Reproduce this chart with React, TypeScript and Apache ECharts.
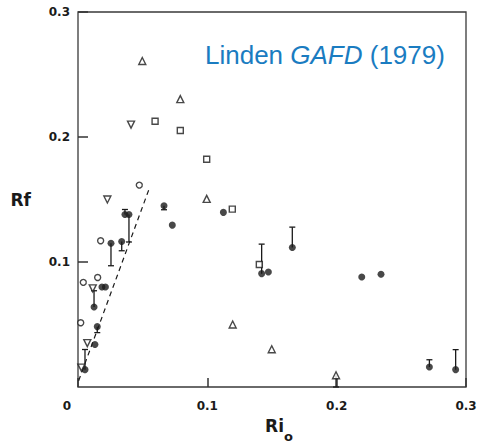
import React, { useEffect, useRef } from "react";
import * as echarts from "echarts";

const xTicks = [0, 0.1, 0.2, 0.3];
const yTicks = [0, 0.1, 0.2, 0.3];

const filledPts: number[][] = [
  [0.0054, 0.0139], [0.0131, 0.034], [0.0124, 0.064], [0.0185, 0.08], [0.0212, 0.08],
  [0.0149, 0.0483], [0.0255, 0.115], [0.0338, 0.1164], [0.0363, 0.138], [0.0394, 0.138],
  [0.0665, 0.145], [0.0729, 0.1295], [0.1124, 0.1397], [0.142, 0.0907], [0.1472, 0.092],
  [0.1657, 0.1116], [0.2194, 0.088], [0.2343, 0.0902], [0.2717, 0.016], [0.292, 0.0139],
];
const openCircles: number[][] = [
  [0.0474, 0.1615], [0.0175, 0.117], [0.0041, 0.0837], [0.0152, 0.0876], [0.0021, 0.0514],
];
const upTriangles: number[][] = [
  [0.0497, 0.2608], [0.0791, 0.2303], [0.0995, 0.1505], [0.1196, 0.05], [0.1498, 0.0302], [0.1995, 0.0094],
];
const downTriangles: number[][] = [
  [0.041, 0.2099], [0.0227, 0.15], [0.0114, 0.0789], [0.0072, 0.0351], [0.0026, 0.0155],
];
const squares: number[][] = [
  [0.0596, 0.2126], [0.0791, 0.2052], [0.0995, 0.1822], [0.1193, 0.1423], [0.1402, 0.098],
];
// [x, from, to]
const errorBars: number[][] = [
  [0.0054, 0.0139, 0.03], [0.0124, 0.064, 0.077], [0.0149, 0.0483, 0.0435],
  [0.0255, 0.115, 0.097], [0.0338, 0.1164, 0.109], [0.0363, 0.138, 0.142],
  [0.0394, 0.138, 0.116], [0.0665, 0.145, 0.1418], [0.142, 0.0907, 0.1143],
  [0.1657, 0.1116, 0.1279], [0.2717, 0.016, 0.0218], [0.292, 0.0139, 0.0299],
  [0.1995, 0.0094, 0.0],
];
const fitLine: number[][] = [[0.0005, 0.005], [0.0551, 0.1588]];

const INK = "#1a1a1a";
const BLUE = "#1a7cc1";

export default function App() {
  const ref = useRef<HTMLDivElement>(null);
  useEffect(() => {
    if (!ref.current) return;
    const chart = echarts.init(ref.current, null, { renderer: "svg" });
    const labelFont = {
      fontFamily: "DejaVu Sans",
      fontWeight: "bold" as const,
      fontSize: 12,
      color: INK,
    };
    const hollow = { color: "#fff", borderColor: INK, borderWidth: 1.4 };
    chart.setOption({
      animation: false,
      backgroundColor: "#fff",
      title: {
        text: "{n|Linden }{i|GAFD}{n| (1979)}",
        left: 200,
        top: 37,
        textStyle: {
          fontWeight: "normal",
          rich: {
            n: { fontFamily: "Liberation Sans", fontWeight: "normal", fontSize: 26, color: BLUE },
            i: { fontFamily: "Liberation Sans", fontWeight: "normal", fontSize: 26, fontStyle: "italic", color: BLUE },
          },
        },
      },
      grid: {
        left: 78, top: 12, right: 14, bottom: 54,
        show: true, borderColor: "#3a3a3a", borderWidth: 1.3,
      },
      xAxis: {
        type: "value",
        min: xTicks[0], max: xTicks[xTicks.length - 1], interval: 0.1,
        splitLine: { show: false },
        axisLine: { show: false },
        axisTick: { show: true, inside: true, length: 9, lineStyle: { color: "#333", width: 1.5 } },
        axisLabel: {
          ...labelFont, margin: 13,
          formatter: (v: number) => (v === 0 ? "{z|0}" : v.toFixed(1)),
          rich: { z: { ...labelFont, padding: [0, 22, 0, 0] } },
        },
        name: "{m|Ri}{s|o}",
        nameLocation: "middle",
        nameGap: 30,
        nameTextStyle: {
          padding: [0, 0, 0, 14],
          rich: {
            m: { fontFamily: "DejaVu Sans", fontWeight: "bold", fontSize: 17, color: INK, lineHeight: 26, verticalAlign: "top" },
            s: { fontFamily: "DejaVu Sans", fontWeight: "bold", fontSize: 13, color: INK, lineHeight: 26, verticalAlign: "bottom" },
          },
        },
      },
      yAxis: {
        type: "value",
        min: yTicks[0], max: yTicks[yTicks.length - 1], interval: 0.1,
        splitLine: { show: false },
        axisLine: { show: false },
        axisTick: { show: true, inside: true, length: 10, lineStyle: { color: "#333", width: 1.5 } },
        axisLabel: {
          ...labelFont, margin: 8, showMinLabel: false,
          formatter: (v: number) => v.toFixed(1),
        },
        name: "Rf",
        nameLocation: "middle",
        nameRotate: 0,
        nameGap: 47,
        nameTextStyle: { fontFamily: "DejaVu Sans", fontWeight: "bold", fontSize: 17, color: INK },
      },
      series: [
        {
          type: "line",
          data: fitLine,
          symbol: "none",
          lineStyle: { color: INK, width: 1.2, type: [5, 4] },
          z: 1,
        },
        {
          type: "custom",
          data: errorBars,
          z: 2,
          renderItem: (params: any, api: any) => {
            const x = api.value(0);
            const p0 = api.coord([x, api.value(1)]);
            const p1 = api.coord([x, api.value(2)]);
            return {
              type: "group",
              children: [
                { type: "line", shape: { x1: p0[0], y1: p0[1], x2: p1[0], y2: p1[1] }, style: { stroke: INK, lineWidth: 1.3 } },
                { type: "line", shape: { x1: p1[0] - 3, y1: p1[1], x2: p1[0] + 3, y2: p1[1] }, style: { stroke: INK, lineWidth: 1.3 } },
              ],
            };
          },
        },
        { type: "scatter", data: filledPts, symbol: "circle", symbolSize: 7, itemStyle: { color: INK }, z: 3 },
        { type: "scatter", data: openCircles, symbol: "circle", symbolSize: 6, itemStyle: hollow, z: 3 },
        { type: "scatter", data: upTriangles, symbol: "triangle", symbolSize: 7, itemStyle: hollow, z: 3 },
        { type: "scatter", data: downTriangles, symbol: "triangle", symbolRotate: 180, symbolSize: 7, itemStyle: hollow, z: 3 },
        { type: "scatter", data: squares, symbol: "rect", symbolSize: 6, itemStyle: hollow, z: 3 },
      ],
    });
    return () => chart.dispose();
  }, []);
  return (
    <div
      ref={ref}
      style={{ position: "fixed", left: 0, top: 0, width: 480, height: 448 }}
    />
  );
}
